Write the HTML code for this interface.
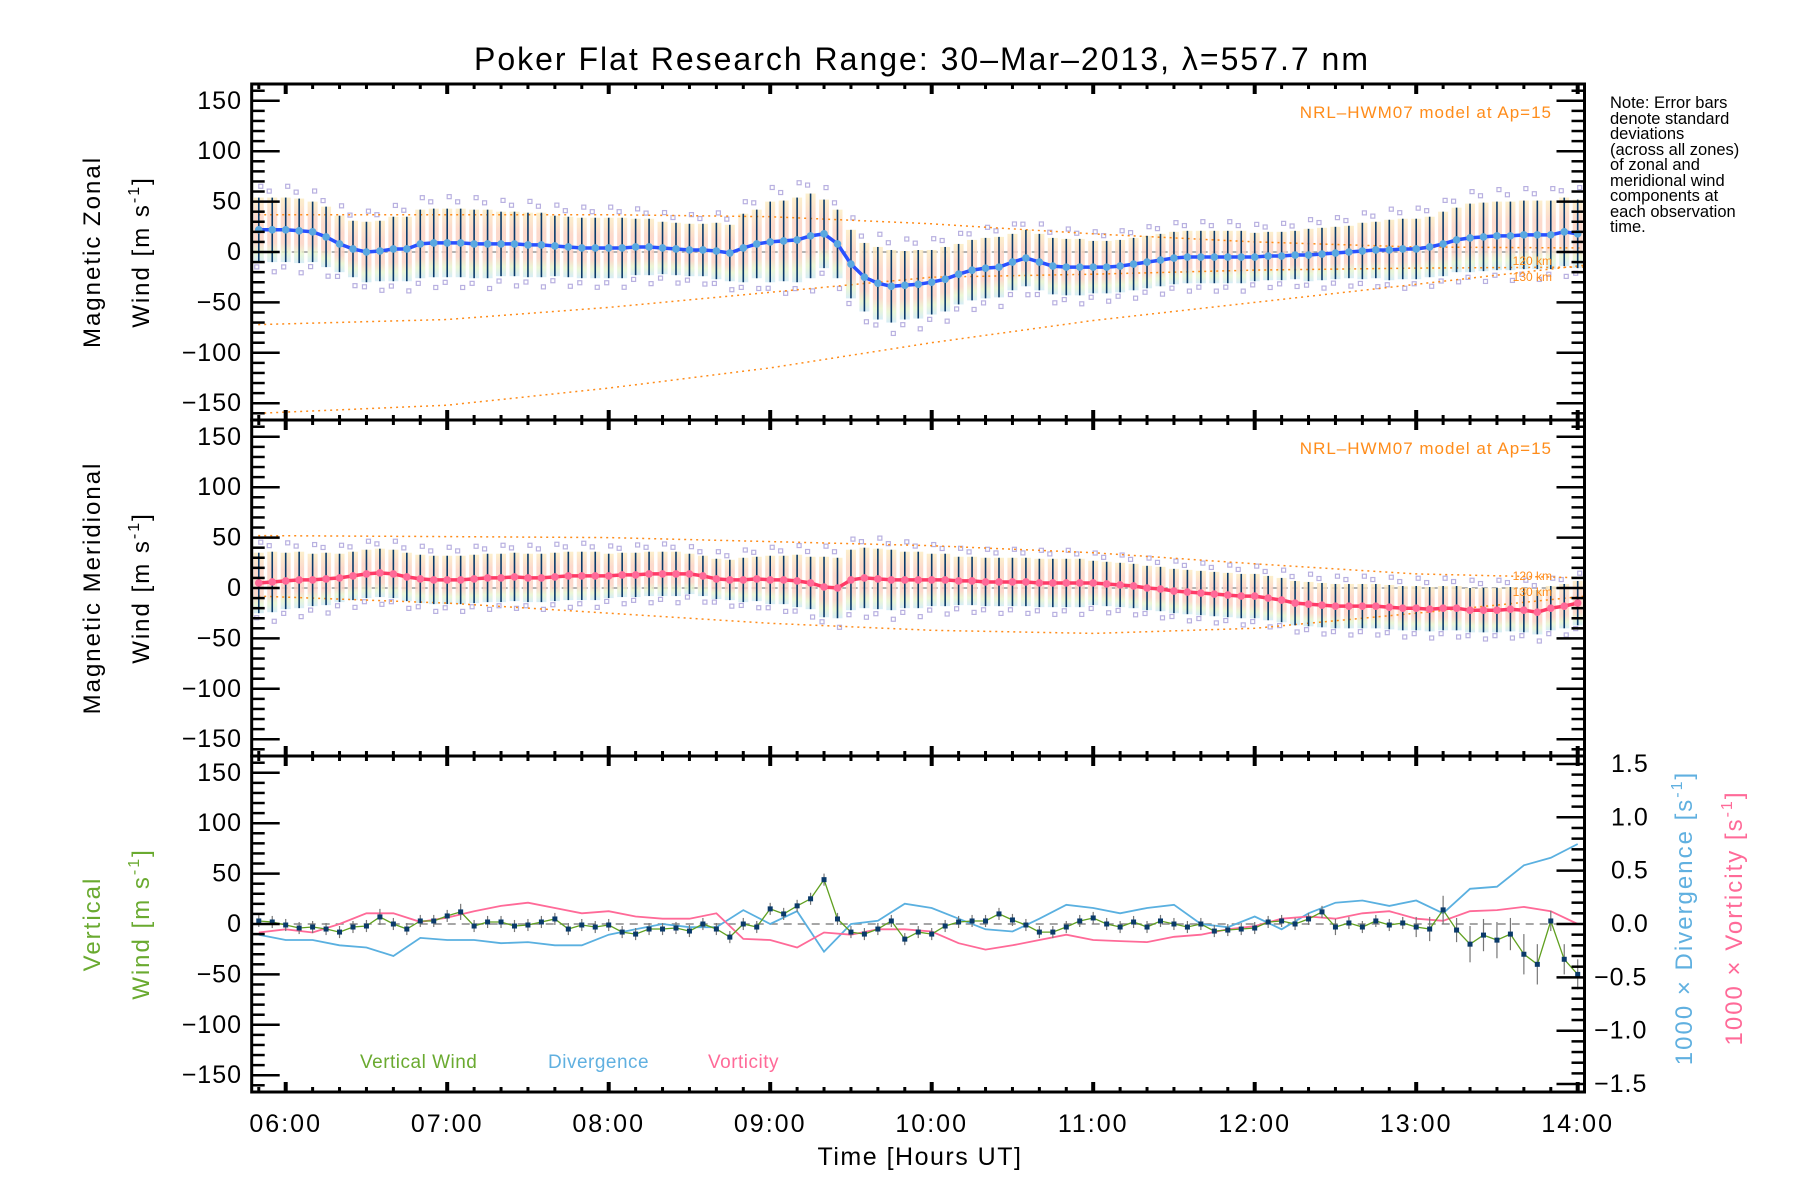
<!DOCTYPE html>
<html><head><meta charset="utf-8"><style>
html,body{margin:0;padding:0;background:#fff;width:1800px;height:1200px;overflow:hidden}
svg{display:block;font-family:"Liberation Sans","DejaVu Sans",sans-serif}
</style></head><body>
<svg id="chart" xmlns="http://www.w3.org/2000/svg" width="1800" height="1200" viewBox="0 0 1800 1200">
<defs>
<linearGradient id="band" x1="0" y1="0" x2="0" y2="1">
<stop offset="0" stop-color="#fcecc0"/><stop offset="0.3" stop-color="#fbd0c0"/><stop offset="0.7" stop-color="#fbd0c0"/><stop offset="0.85" stop-color="#e6f4cc"/><stop offset="1" stop-color="#cce8f4"/>
</linearGradient>
</defs>
<text x="922" y="70" font-size="32" letter-spacing="2" text-anchor="middle">Poker Flat Research Range: 30–Mar–2013, λ=557.7 nm</text>
<g id="layer"></g>
<text transform="translate(100,252) rotate(-90)" font-size="24" letter-spacing="2" text-anchor="middle">Magnetic Zonal</text>
<text transform="translate(149,252) rotate(-90)" font-size="24" letter-spacing="2" text-anchor="middle">Wind [m s<tspan dy="-10" font-size="16">-1</tspan><tspan dy="10">]</tspan></text>
<text transform="translate(100,588) rotate(-90)" font-size="24" letter-spacing="2" text-anchor="middle">Magnetic Meridional</text>
<text transform="translate(149,588) rotate(-90)" font-size="24" letter-spacing="2" text-anchor="middle">Wind [m s<tspan dy="-10" font-size="16">-1</tspan><tspan dy="10">]</tspan></text>
<text transform="translate(100,924) rotate(-90)" font-size="24" letter-spacing="2" fill="#6aaa30" text-anchor="middle">Vertical</text>
<text transform="translate(149,924) rotate(-90)" font-size="24" letter-spacing="2" fill="#6aaa30" text-anchor="middle">Wind [m s<tspan dy="-10" font-size="16">-1</tspan><tspan dy="10">]</tspan></text>
<text transform="translate(1692,918) rotate(-90)" font-size="24" letter-spacing="2" fill="#60b0e0" text-anchor="middle">1000 × Divergence [s<tspan dy="-10" font-size="16">-1</tspan><tspan dy="10">]</tspan></text>
<text transform="translate(1742,918) rotate(-90)" font-size="24" letter-spacing="2" fill="#ff6a98" text-anchor="middle">1000 × Vorticity [s<tspan dy="-10" font-size="16">-1</tspan><tspan dy="10">]</tspan></text>
<text x="920" y="1165" font-size="25" letter-spacing="1.5" text-anchor="middle">Time [Hours UT]</text>
<text x="1552" y="118" font-size="17" letter-spacing="1" fill="#ff8c1a" text-anchor="end">NRL–HWM07 model at Ap=15</text>
<text x="1552" y="454" font-size="17" letter-spacing="1" fill="#ff8c1a" text-anchor="end">NRL–HWM07 model at Ap=15</text>
<text x="1552" y="265" font-size="12" fill="#ff8c1a" text-anchor="end">120 km</text>
<text x="1552" y="281" font-size="12" fill="#ff8c1a" text-anchor="end">130 km</text>
<text x="1552" y="580" font-size="12" fill="#ff8c1a" text-anchor="end">120 km</text>
<text x="1552" y="596" font-size="12" fill="#ff8c1a" text-anchor="end">130 km</text>
<g font-size="16.5">
<text x="1610" y="108">Note: Error bars</text>
<text x="1610" y="124">denote standard</text>
<text x="1610" y="139">deviations</text>
<text x="1610" y="155">(across all zones)</text>
<text x="1610" y="170">of zonal and</text>
<text x="1610" y="186">meridional wind</text>
<text x="1610" y="201">components at</text>
<text x="1610" y="217">each observation</text>
<text x="1610" y="232">time.</text>
</g>
<text x="360" y="1068" font-size="19" letter-spacing="0.5" fill="#6aaa30">Vertical Wind</text>
<text x="548" y="1068" font-size="19" letter-spacing="0.5" fill="#60b0e0">Divergence</text>
<text x="708" y="1068" font-size="19" letter-spacing="0.5" fill="#ff6a98">Vorticity</text>
</svg>
<script>
// ---- data (time start 05:50, step in minutes) ----
const t0 = 5 + 50/60;
const xTickLabels = ["06:00","07:00","08:00","09:00","10:00","11:00","12:00","13:00","14:00"];
const xTickHours = [6,7,8,9,10,11,12,13,14];
const yTickValues = [-150,-100,-50,0,50,100,150];
const rTickValues = [-1.5,-1.0,-0.5,0.0,0.5,1.0,1.5];
const rTickLabels = ["\u22121.5","\u22121.0","\u22120.5","0.0","0.5","1.0","1.5"];
// 5-min zonal mean
const zonalMean = [22,22,
 22,21,20,15,8,3,0,1,3,3,8,9,
 9,9,8,8,8,8,7,7,6,5,4,4,
 4,4,5,5,4,3,2,2,1,-1,4,8,
 10,11,12,16,18,8,-12,-25,-31,-34,-33,-32,
 -30,-27,-22,-18,-16,-15,-10,-6,-10,-14,-15,-15,
 -15,-15,-14,-12,-10,-8,-6,-5,-5,-5,-5,-5,
 -5,-4,-4,-3,-3,-2,-1,0,1,2,2,3,
 3,5,8,12,14,15,16,16,17,17,17,20,
 18];
// 10-min zonal std
const zonalStd = [32, 32,30,28,30,32,34, 34,34,32,32,30,30, 30,28,26,26,28,34, 40,42,34,34,36,34, 32,30,30,28,28,28, 26,26,26,26,26,26, 24,24,26,26,28,30, 30,32,34,34,34,34, 34];
// 5-min meridional mean
const meridMean = [5,6,
 7,8,8,9,10,12,14,15,14,11,9,8,
 8,8,9,10,10,11,10,10,11,12,12,12,
 12,13,13,14,14,14,14,12,9,8,8,9,
 8,8,7,5,1,0,8,10,9,8,8,8,
 8,8,7,7,6,6,6,6,5,5,5,5,
 5,4,3,2,0,-1,-3,-4,-5,-6,-7,-8,
 -8,-10,-12,-15,-16,-17,-18,-18,-18,-18,-19,-20,
 -20,-21,-20,-20,-22,-22,-22,-21,-22,-24,-20,-18,
 -15];
const meridStd = [30, 28,26,24,24,24,24, 24,24,24,24,24,24, 22,22,22,20,20,22, 24,26,30,30,30,28, 26,24,24,24,24,24, 22,22,22,22,22,22, 22,22,22,22,22,22, 22,22,22,22,22,22, 22];
// 5-min vertical wind
const vertWind = [3,2,
 -1,-4,-3,-5,-8,-3,-2,7,0,-5,3,3,
 8,12,-2,2,2,-2,-1,2,5,-5,-1,-3,
 -1,-8,-10,-5,-5,-4,-7,0,-5,-13,0,-3,
 15,10,18,25,44,5,-8,-10,-5,3,-15,-8,
 -10,-2,2,3,3,10,4,-1,-8,-8,-3,3,
 6,0,-3,2,-3,3,0,-3,0,-7,-6,-5,
 -4,2,3,0,5,12,-3,1,-3,3,-1,1,
 -3,-5,14,-6,-20,-11,-16,-10,-30,-40,3,-35,
 -50];
const vertErr = [6,6, 6,6,6,6,6,6,6,8,6,6,6,6, 6,8,6,6,6,6,6,6,6,6,6,6, 6,6,6,6,6,6,6,6,6,6,6,6, 6,6,6,6,6,6,6,6,6,6,6,6, 6,6,6,6,6,6,6,6,6,6,6,6, 6,6,6,6,6,6,6,6,6,6,6,6, 6,6,6,6,6,6,8,6,6,6,6,6, 10,12,14,12,18,16,18,16,20,20,10,15, 15];
// 10-min divergence and vorticity (right axis units)
const divergence = [-0.1, -0.15,-0.15,-0.2,-0.22,-0.3,-0.13, -0.15,-0.15,-0.18,-0.17,-0.2,-0.2, -0.1,-0.05,0,-0.03,-0.03,0.13, 0.0,0.12,-0.26,0.0,0.03,0.19, 0.15,0.05,-0.05,-0.07,0.05,0.18, 0.15,0.1,0.15,0.18,0.0,-0.03, 0.07,-0.05,0.1,0.2,0.22,0.17, 0.22,0.1,0.33,0.35,0.55,0.62, 0.75];
const vorticity = [-0.08, -0.05,-0.08,0.0,0.1,0.1,0.02, 0.06,0.12,0.17,0.2,0.15,0.1, 0.12,0.07,0.05,0.05,0.1,-0.14, -0.15,-0.22,-0.08,-0.1,-0.05,-0.05, -0.07,-0.18,-0.24,-0.2,-0.15,-0.1, -0.15,-0.16,-0.17,-0.12,-0.1,-0.05, -0.02,0.05,0.07,0.05,0.1,0.12, 0.05,0.03,0.12,0.13,0.16,0.12, 0.0];
// NRL-HWM07 model curves
const modelHours = [5.83,7,8,9,10,11,12,13,14.05];
const zonalModel120 = [37,37,37,35,28,18,10,5,4];
const zonalModel130 = [-72,-67,-55,-40,-25,-22,-18,-16,-15];
const zonalModelLow = [-160,-152,-135,-115,-90,-68,-50,-32,-13];
const meridModel120 = [52,51,50,46,42,35,24,14,10];
const meridModel130 = [-8,-15,-25,-35,-42,-45,-40,-25,-8];

// ---- axes functions ----
const NS="http://www.w3.org/2000/svg";
const layer=document.getElementById('layer');
const L=251.7,R=1584.5,tops=[84,420,756],PH=336;
function X(h){return 285.7+(h-6)*161.5;}
function Y(p,v){return tops[p]+PH/2-v*1.008;}
function YR(r){return 924-r*106.7;}
function mk(tag,attrs,parent){const e=document.createElementNS(NS,tag);for(const k in attrs)e.setAttribute(k,attrs[k]);(parent||layer).appendChild(e);return e;}
function path(pts){return pts.map((p,i)=>(i?'L':'M')+p[0].toFixed(1)+' '+p[1].toFixed(1)).join('');}
const tAt5=i=>t0+i*5/60, tAt10=i=>t0+i*10/60;

function clipFor(p){const c=mk('clipPath',{id:'clip'+p});mk('rect',{x:L,y:tops[p],width:R-L,height:PH},c);return 'url(#clip'+p+')';}

function windPanel(p,mean,std,lineColor,dotColor,m120,m130,mLow,name){
  const g=mk('g',{'clip-path':clipFor(p)});
  
  
  mk('line',{x1:L,x2:R,y1:Y(p,0),y2:Y(p,0),stroke:'#888','stroke-width':1.2,'stroke-dasharray':'6,4'},g);
  mean.forEach((m,i)=>{
    const s=std[Math.min(std.length-1,Math.floor(i/2))],x=X(tAt5(i));
    const b=mk('rect',{x:x-5,y:Y(p,m+s),width:10,height:Y(p,m-s)-Y(p,m+s),fill:'url(#band)',opacity:0.8},g);
    
    
  });
  mean.forEach((m,i)=>{
    const s=std[Math.min(std.length-1,Math.floor(i/2))],x=X(tAt5(i));
    const ks = i%2 ? [[1.2,-3],[-1.3,2]] : [[1.35,2],[-1.15,-2]];
    ks.forEach(k=>{
      const q=mk('rect',{x:x+k[1]-2,y:Y(p,m+k[0]*s)-2,width:4,height:4,fill:'none',stroke:'#b8b0e0','stroke-width':1.2},g);
      
      
    });
  });
  [m120,m130,mLow].forEach(arr=>{
    if(!arr)return;
    const l=mk('path',{d:path(arr.map((v,i)=>[X(modelHours[i]),Y(p,v)])),fill:'none',stroke:'#ff8c1a','stroke-width':1.5,'stroke-dasharray':'2,4'},g);
    
    
  });
  mean.forEach((m,i)=>{
    const s=std[Math.min(std.length-1,Math.floor(i/2))],x=X(tAt5(i));
    const e=mk('line',{x1:x,x2:x,y1:Y(p,m+s),y2:Y(p,m-s),stroke:'#0a3a6a','stroke-width':1.6},g);
    
    
  });
  const ln=mk('path',{d:path(mean.map((m,i)=>[X(tAt5(i)),Y(p,m)])),fill:'none',stroke:lineColor,'stroke-width':3.5},g);
  
  
  mean.forEach((m,i)=>{
    const d=mk('circle',{cx:X(tAt5(i)),cy:Y(p,m),r:3.8,fill:dotColor},g);
    
    
  });
}
windPanel(0,zonalMean,zonalStd,'#2a50ff','#5aa8e0',zonalModel120,zonalModel130,zonalModelLow,'zonal');
windPanel(1,meridMean,meridStd,'#ff3a66','#ff6a98',meridModel120,meridModel130,null,'meridional');

// panel 3
(function(){
  const p=2,g=mk('g',{'clip-path':clipFor(p)});
  
  
  mk('line',{x1:L,x2:R,y1:Y(p,0),y2:Y(p,0),stroke:'#888','stroke-width':1.5,'stroke-dasharray':'8,6'},g);
  const dv=mk('path',{d:path(divergence.map((v,i)=>[X(tAt10(i)),YR(v)])),fill:'none',stroke:'#5ab0e0','stroke-width':1.8},g);
  
  
  const vo=mk('path',{d:path(vorticity.map((v,i)=>[X(tAt10(i)),YR(v)])),fill:'none',stroke:'#ff6a98','stroke-width':1.8},g);
  
  
  vertWind.forEach((v,i)=>{
    const x=X(tAt5(i)),e=vertErr[i];
    const b=mk('line',{x1:x,x2:x,y1:Y(p,v+e),y2:Y(p,v-e),stroke:'#777','stroke-width':1.2},g);
    
    
  });
  const vw=mk('path',{d:path(vertWind.map((v,i)=>[X(tAt5(i)),Y(p,v)])),fill:'none',stroke:'#60a020','stroke-width':1.3},g);
  
  
  vertWind.forEach((v,i)=>{
    const q=mk('rect',{x:X(tAt5(i))-2.5,y:Y(p,v)-2.5,width:5,height:5,fill:'#0a3a6a'},g);
    
    
  });
})();

// axes frames and ticks
for(let p=0;p<3;p++){
  const ax=mk('g',{});
  
  
  mk('rect',{x:L,y:tops[p],width:R-L,height:PH,fill:'none',stroke:'#000','stroke-width':3},ax);
  for(let m=0;m<=8*60+20;m+=10){
    const h=5+50/60+m/60; if(h>14.05)break;
    const x=X(h),major=Math.abs(h-Math.round(h))<1e-6;
    const len=major?10:5,w=major?4:3;
    mk('line',{x1:x,x2:x,y1:tops[p],y2:tops[p]+len,stroke:'#000','stroke-width':w},ax);
    mk('line',{x1:x,x2:x,y1:tops[p]+PH,y2:tops[p]+PH-len,stroke:'#000','stroke-width':w},ax);
  }
  for(let v=-160;v<=160;v+=10){
    const y=Y(p,v),major=v%50===0,len=major?28:13;
    mk('line',{x1:L,x2:L+len,y1:y,y2:y,stroke:'#000','stroke-width':2.5},ax);
    if(p<2) mk('line',{x1:R,x2:R-len,y1:y,y2:y,stroke:'#000','stroke-width':2.5},ax);
  }
  yTickValues.forEach(v=>{
    const t=mk('text',{x:242,y:Y(p,v)+8,'font-size':25,'letter-spacing':1,'text-anchor':'end'},ax);
    t.textContent=(v<0?'\u2212':'')+Math.abs(v);
    
    
  });
}
for(let r=-1.6;r<=1.61;r+=0.1){
  const y=YR(r),major=Math.abs(r*2-Math.round(r*2))<1e-6,len=major?28:13;
  if(y<tops[2]||y>tops[2]+PH)continue;
  mk('line',{x1:R,x2:R-len,y1:y,y2:y,stroke:'#000','stroke-width':2.5});
}
rTickValues.forEach((v,i)=>{
  const t=mk('text',{x:v<0?1594:1594+17,y:YR(v)+8,'font-size':25,'letter-spacing':1});
  t.textContent=rTickLabels[i];
  
  
});
xTickHours.forEach((h,i)=>{
  const t=mk('text',{x:X(h),y:1132,'font-size':25,'letter-spacing':2,'text-anchor':'middle'});
  t.textContent=xTickLabels[i];
  
  
});
</script>
</body></html>
